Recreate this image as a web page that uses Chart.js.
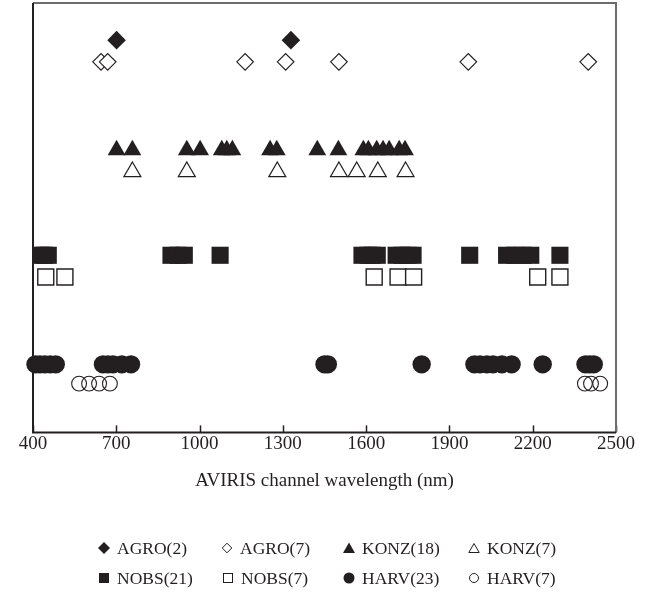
<!DOCTYPE html>
<html><head><meta charset="utf-8">
<script src="https://cdn.jsdelivr.net/npm/chart.js@4.4.1/dist/chart.umd.min.js"></script>
<style>
html,body{margin:0;padding:0;background:#fff;}
#wrap{position:relative;width:651px;height:611px;overflow:hidden;}
#c{position:absolute;left:0;top:0;}
#legend{position:absolute;left:0;top:0;width:651px;height:611px;pointer-events:none;font-family:"Liberation Serif","Times New Roman",serif;font-size:17.5px;color:#231f20;}
.item{position:absolute;white-space:nowrap;line-height:20px;}
.item svg{position:absolute;top:4px;left:-6px;}
.item span{position:absolute;left:13px;top:0;}
</style>
</head><body>
<div id="wrap"><canvas id="c" width="651" height="611"></canvas><div id="legend"></div></div>
<script>
// ---- data (wavelength in nm) ----
const seriesNames = ["AGRO(2)", "AGRO(7)", "KONZ(18)", "KONZ(7)", "NOBS(21)", "NOBS(7)", "HARV(23)", "HARV(7)"];
const agroFilled = [701, 1329];
const agroOpen = [645, 669, 1164, 1310, 1502, 1968, 2400];
const konzFilled = [701, 758, 954, 1002, 1080, 1098, 1118, 1254, 1278, 1424, 1500, 1590, 1608, 1638, 1661, 1683, 1719, 1740];
const konzOpen = [758, 954, 1280, 1502, 1566, 1642, 1742];
const nobsFilled = [428, 440, 455, 897, 922, 945, 1074, 1585, 1607, 1621, 1640, 1708, 1729, 1751, 1769, 1973, 2106, 2136, 2165, 2193, 2298];
const nobsOpen = [446, 515, 1629, 1715, 1771, 2218, 2298];
const harvFilled = [409, 425, 443, 462, 482, 652, 670, 688, 720, 753, 1450, 1462, 1800, 1990, 2010, 2035, 2057, 2089, 2124, 2236, 2390, 2405, 2420];
const harvOpen = [566, 602, 638, 677, 2388, 2410, 2443];
const rowLevels = [18.27, 17.26, 13.15, 12.14, 8.25, 7.24, 3.17, 2.27];
const xTicks = [400, 700, 1000, 1300, 1600, 1900, 2200, 2500];
const xTitle = "AVIRIS channel wavelength (nm)";

const seriesData = [agroFilled, agroOpen, konzFilled, konzOpen, nobsFilled, nobsOpen, harvFilled, harvOpen];
const INK = "#231f20";
const styles = [
  {ps:"rectRot", r:9.3, fill:INK, bw:0},
  {ps:"rectRot", r:8.3, fill:"#ffffff", bw:1.2},
  {ps:"triangle", r:10.3, fill:INK, bw:0},
  {ps:"triangle", r:9.8, fill:"#ffffff", bw:1.2},
  {ps:"rect", r:12.1, fill:INK, bw:0},
  {ps:"rect", r:11.3, fill:"#ffffff", bw:1.4},
  {ps:"circle", r:9.2, fill:INK, bw:0},
  {ps:"circle", r:7.4, fill:"rgba(0,0,0,0)", bw:1.1}
];

const datasets = seriesData.map((arr, i) => ({
  label: seriesNames[i],
  data: arr.map(v => ({x: v, y: rowLevels[i]})),
  showLine: false,
  pointStyle: styles[i].ps,
  pointRadius: styles[i].r,
  pointHoverRadius: styles[i].r,
  pointBackgroundColor: styles[i].fill,
  pointBorderColor: INK,
  pointBorderWidth: styles[i].bw,
  clip: false
}));

const boxPlugin = {
  id: "box",
  afterDraw(chart) {
    const {ctx, chartArea: a, scales} = chart;
    ctx.save();
    ctx.strokeStyle = INK;
    ctx.lineWidth = 1.5;
    xTicks.forEach(v => {
      const px = Math.round(scales.x.getPixelForValue(v)) + 0.5;
      ctx.beginPath(); ctx.moveTo(px, a.bottom); ctx.lineTo(px, a.bottom - 7); ctx.stroke();
    });
    ctx.strokeStyle = "#6d6d6d";
    ctx.lineWidth = 2;
    ctx.beginPath(); ctx.moveTo(a.left, a.top); ctx.lineTo(a.right, a.top); ctx.lineTo(a.right, a.bottom); ctx.stroke();
    ctx.strokeStyle = INK;
    ctx.lineWidth = 2;
    ctx.beginPath(); ctx.moveTo(a.left, a.top); ctx.lineTo(a.left, a.bottom); ctx.lineTo(a.right, a.bottom); ctx.stroke();
    ctx.restore();
  }
};

new Chart(document.getElementById("c"), {
  type: "scatter",
  data: {datasets},
  options: {
    responsive: false,
    animation: false,
    events: [],
    layout: {autoPadding: false, padding: {left: 33, right: 35, top: 3, bottom: 119}},
    plugins: {legend: {display: false}, tooltip: {enabled: false}},
    scales: {
      x: {
        type: "linear", min: 400, max: 2500,
        afterBuildTicks(s) { s.ticks = xTicks.map(v => ({value: v})); },
        grid: {display: false, drawTicks: false},
        border: {display: false},
        ticks: {color: INK, padding: 0, maxRotation: 0, autoSkip: false,
          callback: v => String(v),
          font: {family: "'Liberation Serif', 'Times New Roman', serif", size: 19}},
        title: {display: true, text: xTitle, color: INK, padding: {top: 14, bottom: 0},
          font: {family: "'Liberation Serif', 'Times New Roman', serif", size: 19}}
      },
      y: {type: "linear", min: 0, max: 20, display: false}
    }
  },
  plugins: [boxPlugin]
});

// ---- HTML legend ----
const legendPos = [[104, 538], [227, 538], [349, 538], [474, 538], [104, 568], [228, 568], [349, 568], [474, 568]];
const svgShapes = [
  '<polygon points="6,0 12,6 6,12 0,6" fill="'+INK+'"/>',
  '<polygon points="6,1.2 10.8,6 6,10.8 1.2,6" fill="#fff" stroke="'+INK+'" stroke-width="1"/>',
  '<polygon points="6,0.5 12,11 0,11" fill="'+INK+'"/>',
  '<polygon points="6,1.5 11.2,10.5 0.8,10.5" fill="#fff" stroke="'+INK+'" stroke-width="1"/>',
  '<rect x="1" y="1" width="10" height="10" fill="'+INK+'"/>',
  '<rect x="1.5" y="1.5" width="9" height="9" fill="#fff" stroke="'+INK+'" stroke-width="1"/>',
  '<circle cx="6" cy="6" r="5.5" fill="'+INK+'"/>',
  '<circle cx="6" cy="6" r="4.5" fill="none" stroke="'+INK+'" stroke-width="1"/>'
];
const leg = document.getElementById("legend");
seriesNames.forEach((n, i) => {
  const d = document.createElement("div");
  d.className = "item";
  d.style.left = legendPos[i][0] + "px";
  d.style.top = legendPos[i][1] + "px";
  d.innerHTML = '<svg width="12" height="12" viewBox="0 0 12 12">' + svgShapes[i] + '</svg><span>' + n + '</span>';
  leg.appendChild(d);
});
</script>
</body></html>
